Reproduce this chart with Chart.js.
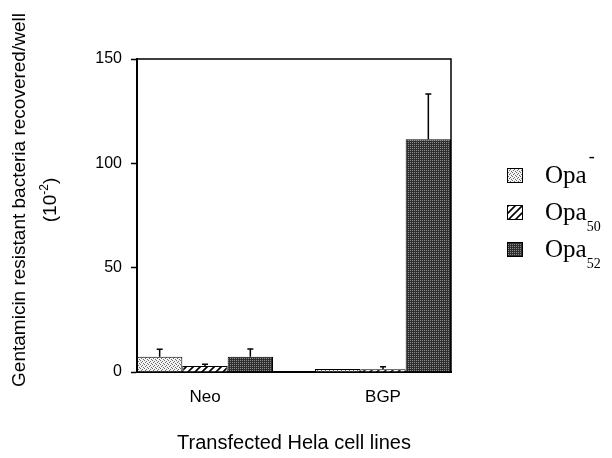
<!DOCTYPE html>
<html>
<head>
<meta charset="utf-8">
<script src="https://cdn.jsdelivr.net/npm/chart.js@4.4.0/dist/chart.umd.min.js"></script>
<style>
  html, body { margin: 0; padding: 0; background: #fff; }
  canvas { display: block; }
</style>
</head>
<body>
<canvas id="chart" width="612" height="458"></canvas>
<script>
// Gentamicin resistant bacteria recovered per well (x10^-2), by cell line
const cellLines = ['Neo', 'BGP'];
const seriesNames = ['Opa-', 'Opa50', 'Opa52'];
const opaMinus = [7.3, 1.4];
const opaMinusErr = [3.6, 0];
const opa50 = [2.9, 1.3];
const opa50Err = [0.8, 1.2];
const opa52 = [7.3, 111.5];
const opa52Err = [3.7, 21.7];
const yTicks = [0, 50, 100, 150];

// legend text pieces: base, superscript, subscript
const legendBase = ['Opa', 'Opa', 'Opa'];
const legendSup = ['-', '', ''];
const legendSub = ['', '50', '52'];

const ctx = document.getElementById('chart').getContext('2d');

function tile(size, draw) {
  const c = document.createElement('canvas');
  c.width = size;
  c.height = size;
  draw(c.getContext('2d'));
  return ctx.createPattern(c, 'repeat');
}

// light stipple
const dots = tile(4, g => {
  g.fillStyle = '#f4f4f4';
  g.fillRect(0, 0, 4, 4);
  g.fillStyle = '#6a6a6a';
  g.fillRect(0, 0, 1, 1);
  g.fillRect(2, 1, 1, 1);
  g.fillRect(1, 2, 1, 1);
  g.fillRect(3, 3, 1, 1);
});
// diagonal hatch
const hatch = tile(7, g => {
  g.fillStyle = '#ffffff';
  g.fillRect(0, 0, 7, 7);
  g.strokeStyle = '#000';
  g.lineWidth = 1.6;
  g.beginPath();
  g.moveTo(-1, 8); g.lineTo(8, -1);
  g.moveTo(-1, 1); g.lineTo(1, -1);
  g.moveTo(6, 8); g.lineTo(8, 6);
  g.stroke();
});
// dark stipple
const dark = tile(2, g => {
  g.fillStyle = '#2e2e2e';
  g.fillRect(0, 0, 2, 2);
  g.fillStyle = '#8f8f8f';
  g.fillRect(0, 0, 1, 1);
});

const fills = [dots, hatch, dark];
const values = [opaMinus, opa50, opa52];
const errors = [opaMinusErr, opa50Err, opa52Err];

const errorBars = {
  id: 'errorBars',
  afterDatasetsDraw(chart) {
    const g = chart.ctx;
    const y = chart.scales.y;
    g.save();
    g.strokeStyle = '#000';
    g.lineWidth = 1.5;
    chart.data.datasets.forEach((ds, s) => {
      chart.getDatasetMeta(s).data.forEach((bar, i) => {
        const e = ds.errors[i];
        if (!e) return;
        const top = y.getPixelForValue(ds.data[i].y + e);
        g.beginPath();
        g.moveTo(bar.x, bar.y);
        g.lineTo(bar.x, top);
        g.moveTo(bar.x - 3, top);
        g.lineTo(bar.x + 3, top);
        g.stroke();
      });
    });
    g.restore();
  }
};

// top and right edges of the box
const frame = {
  id: 'frame',
  afterDraw(chart) {
    const {left, top, right, bottom} = chart.chartArea;
    const g = chart.ctx;
    g.save();
    g.strokeStyle = '#000';
    g.lineWidth = 1.5;
    g.beginPath();
    g.moveTo(left, top);
    g.lineTo(right, top);
    g.lineTo(right, bottom);
    g.stroke();
    g.restore();
  }
};

// y title with superscript in second line
const yTitle = {
  id: 'yTitle',
  afterDraw(chart) {
    const g = chart.ctx;
    const cy = 200;
    g.save();
    g.fillStyle = '#000';
    g.textBaseline = 'alphabetic';
    g.textAlign = 'left';
    g.font = '19px "Liberation Sans", Arial, sans-serif';
    const line1 = 'Gentamicin resistant bacteria recovered/well';
    g.translate(25, cy);
    g.rotate(-Math.PI / 2);
    g.fillText(line1, -g.measureText(line1).width / 2, 0);
    g.restore();

    g.save();
    g.fillStyle = '#000';
    g.textBaseline = 'alphabetic';
    g.textAlign = 'left';
    g.translate(56, cy);
    g.rotate(-Math.PI / 2);
    const big = '19px "Liberation Sans", Arial, sans-serif';
    const small = '12px "Liberation Sans", Arial, sans-serif';
    g.font = big;
    const w1 = g.measureText('(10').width;
    const w3 = g.measureText(')').width;
    g.font = small;
    const w2 = g.measureText('-2').width;
    let x = -(w1 + w2 + w3) / 2;
    g.font = big;
    g.fillText('(10', x, 0);
    x += w1;
    g.font = small;
    g.fillText('-2', x, -8);
    x += w2;
    g.font = big;
    g.fillText(')', x, 0);
    g.restore();
  }
};

const legendBoxes = {
  id: 'legendBoxes',
  afterDraw(chart) {
    const g = chart.ctx;
    g.save();
    g.textBaseline = 'alphabetic';
    g.textAlign = 'left';
    seriesNames.forEach((n, s) => {
      const base = 183 + s * 37;
      g.fillStyle = fills[s];
      g.fillRect(507, base - 15, 16, 15);
      g.strokeStyle = '#000';
      g.lineWidth = 1;
      g.strokeRect(507.5, base - 14.5, 15, 14);
      g.fillStyle = '#000';
      g.font = '25px "Liberation Serif", "Times New Roman", serif';
      g.fillText(legendBase[s], 545, base);
      const w = g.measureText(legendBase[s]).width;
      if (legendSup[s]) {
        g.font = '18px "Liberation Serif", "Times New Roman", serif';
        g.fillText(legendSup[s], 545 + w + 2, base - 21);
      }
      if (legendSub[s]) {
        g.font = '14px "Liberation Serif", "Times New Roman", serif';
        g.fillText(legendSub[s], 545 + w, base + 11);
      }
    });
    g.restore();
  }
};

new Chart(ctx, {
  type: 'bar',
  data: {
    datasets: values.map((v, s) => ({
      label: seriesNames[s],
      data: v.map((y, i) => ({x: i, y: y})),
      errors: errors[s],
      backgroundColor: fills[s],
      borderColor: '#000',
      borderWidth: 1,
      categoryPercentage: 0.764,
      barPercentage: 1
    }))
  },
  options: {
    responsive: false,
    animation: false,
    devicePixelRatio: 1,
    layout: {
      padding: {top: 59, right: 161, left: 0, bottom: 0}
    },
    plugins: {
      legend: {display: false},
      tooltip: {enabled: false}
    },
    scales: {
      x: {
        type: 'linear',
        offset: false,
        min: -0.382,
        max: 1.382,
        afterBuildTicks: s => { s.ticks = cellLines.map((c, i) => ({value: i})); },
        afterFit: s => { s.height = 86; },
        ticks: {
          callback: v => cellLines[v],
          color: '#000',
          font: {family: '"Liberation Sans", Arial, sans-serif', size: 17},
          padding: 15,
          autoSkip: false,
          maxRotation: 0
        },
        grid: {display: false, drawTicks: false, offset: false},
        border: {display: true, color: '#000', width: 2},
        title: {
          display: true,
          text: 'Transfected Hela cell lines',
          color: '#000',
          font: {family: '"Liberation Sans", Arial, sans-serif', size: 20},
          padding: {top: 0, bottom: 3}
        }
      },
      y: {
        min: 0,
        max: 150,
        afterBuildTicks: s => { s.ticks = yTicks.map(v => ({value: v})); },
        afterFit: s => { s.width = 137; },
        ticks: {
          color: '#000',
          font: {family: '"Liberation Sans", Arial, sans-serif', size: 16},
          padding: 9
        },
        grid: {drawOnChartArea: false, drawTicks: true, tickLength: 6, tickColor: '#000', tickWidth: 1.5},
        border: {color: '#000', width: 2}
      }
    }
  },
  plugins: [errorBars, frame, yTitle, legendBoxes]
});
</script>
</body>
</html>
